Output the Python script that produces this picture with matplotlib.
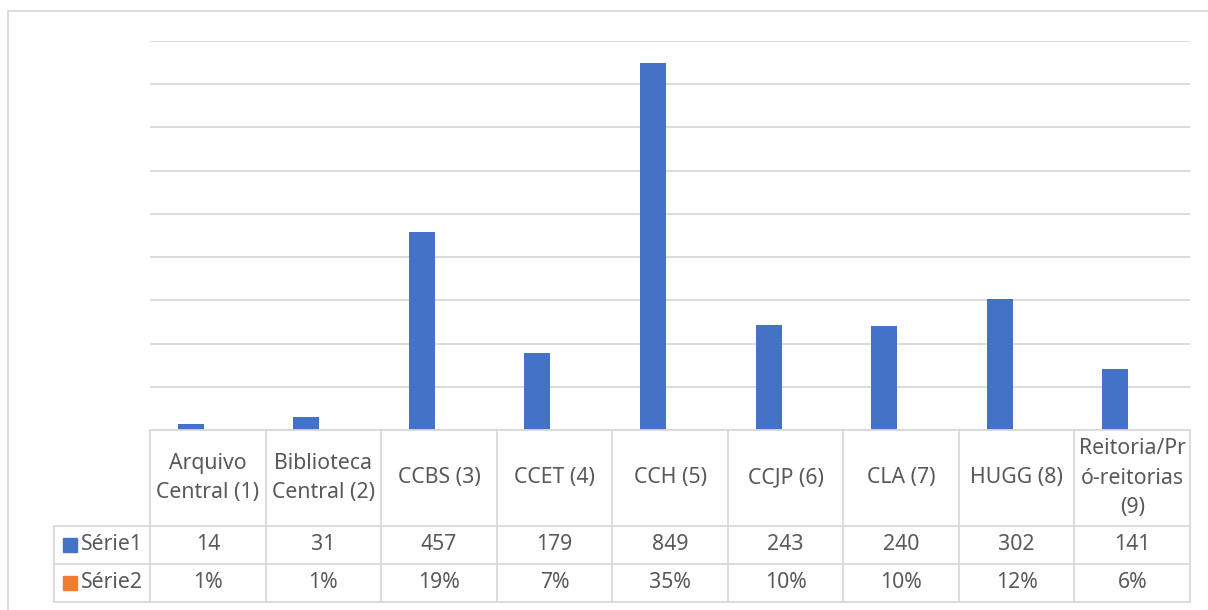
import numpy as np
import matplotlib.pyplot as plt
from matplotlib.lines import Line2D
from matplotlib.patches import Rectangle

categories = [
    "Arquivo\nCentral (1)",
    "Biblioteca\nCentral (2)",
    "CCBS (3)",
    "CCET (4)",
    "CCH (5)",
    "CCJP (6)",
    "CLA (7)",
    "HUGG (8)",
    "Reitoria/Pr\nó-reitorias\n(9)",
]
serie1 = [14, 31, 457, 179, 849, 243, 240, 302, 141]
serie2_pct = [1, 1, 19, 7, 35, 10, 10, 12, 6]
series_names = ["Série1", "Série2"]

BLUE = "#4472C4"
ORANGE = "#ED7D31"
GRID = "#D9D9D9"
TEXT = "#595959"
FONT = ["Noto Sans", "DejaVu Sans"]

W, H = 1208, 610
fig = plt.figure(figsize=(W / 100, H / 100), dpi=100)
fig.patch.set_facecolor("white")


def fx(px):
    return px / W


def fy(py):
    return 1 - py / H


# plot area in pixels
left, right, top, bottom = 150, 1190, 41, 430
ax = fig.add_axes([fx(left), fy(bottom), fx(right - left), (bottom - top) / H])

x = np.arange(len(categories))
ax.bar(x - 0.147, serie1, width=0.225, color=BLUE, zorder=3)
ax.bar(x + 0.147, np.array(serie2_pct) / 100.0, width=0.225, color=ORANGE, zorder=1)

ax.set_xlim(-0.5, len(categories) - 0.5)
ax.set_ylim(0, 900)
ax.set_yticks(np.arange(0, 901, 100))
ax.yaxis.grid(True, color=GRID, lw=1.3)
ax.set_axisbelow(True)
ax.tick_params(left=False, bottom=False, labelleft=False, labelbottom=False)
for s in ax.spines.values():
    s.set_visible(False)


def hline(y, x0, x1):
    fig.add_artist(Line2D([fx(x0), fx(x1)], [fy(y), fy(y)], color=GRID, lw=1.3))


def vline(xp, y0, y1):
    fig.add_artist(Line2D([fx(xp), fx(xp)], [fy(y0), fy(y1)], color=GRID, lw=1.3))


# outer chart border
fig.add_artist(Rectangle((fx(8), fy(640)), fx(1300), (640 - 11) / H,
                         fill=False, ec=GRID, lw=1.3))

# data table
leg_left = 54
row_y = [430, 526, 564, 602]
col_w = (right - left) / len(categories)
hline(row_y[0], left, right)
hline(row_y[1], leg_left, right)
hline(row_y[2], leg_left, right)
hline(row_y[3], leg_left, right)
vline(leg_left, row_y[1], row_y[3])
for i in range(len(categories) + 1):
    vline(left + i * col_w, row_y[0], row_y[3])

fs = 15.3
for i, cat in enumerate(categories):
    cx = left + (i + 0.5) * col_w
    fig.text(fx(cx), fy((row_y[0] + row_y[1]) / 2), cat, ha="center", va="center",
             fontsize=fs, color=TEXT, family=FONT, linespacing=1.52)
    fig.text(fx(cx), fy((row_y[1] + row_y[2]) / 2), str(serie1[i]), ha="center",
             va="center", fontsize=fs, color=TEXT, family=FONT)
    fig.text(fx(cx), fy((row_y[2] + row_y[3]) / 2), f"{serie2_pct[i]}%", ha="center",
             va="center", fontsize=fs, color=TEXT, family=FONT)

for j, (name, col) in enumerate(zip(series_names, [BLUE, ORANGE])):
    cy = (row_y[j + 1] + row_y[j + 2]) / 2
    fig.add_artist(Rectangle((fx(63), fy(cy + 7)), fx(14), 14 / H, color=col))
    fig.text(fx(81), fy(cy), name, ha="left", va="center", fontsize=fs,
             color=TEXT, family=FONT)

fig.savefig("out.png", dpi=100, facecolor="white")
